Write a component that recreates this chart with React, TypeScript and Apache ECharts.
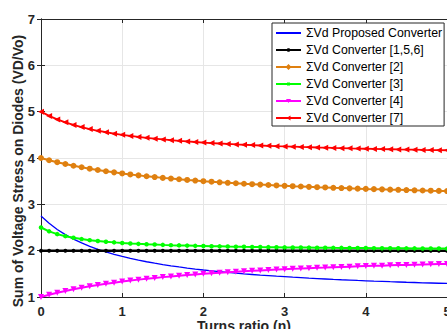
import React, { useEffect, useRef } from "react";
import * as echarts from "echarts";

const turnsRatio = [
  0, 0.1, 0.2, 0.3, 0.4, 0.5, 0.6, 0.7, 0.8, 0.9,
  1, 1.1, 1.2, 1.3, 1.4, 1.5, 1.6, 1.7, 1.8, 1.9,
  2, 2.1, 2.2, 2.3, 2.4, 2.5, 2.6, 2.7, 2.8, 2.9,
  3, 3.1, 3.2, 3.3, 3.4, 3.5, 3.6, 3.7, 3.8, 3.9,
  4, 4.1, 4.2, 4.3, 4.4, 4.5, 4.6, 4.7, 4.8, 4.9, 5,
];

const proposed = [
  2.75, 2.591, 2.458, 2.346, 2.25, 2.167, 2.094, 2.029, 1.972, 1.921,
  1.875, 1.833, 1.795, 1.761, 1.729, 1.7, 1.673, 1.648, 1.625, 1.603,
  1.583, 1.565, 1.547, 1.53, 1.515, 1.5, 1.486, 1.473, 1.461, 1.449,
  1.438, 1.427, 1.417, 1.407, 1.398, 1.389, 1.38, 1.372, 1.365, 1.357,
  1.35, 1.343, 1.337, 1.33, 1.324, 1.318, 1.313, 1.307, 1.302, 1.297, 1.292,
];

const conv156 = [
  2, 2, 2, 2, 2, 2, 2, 2, 2, 2,
  2, 2, 2, 2, 2, 2, 2, 2, 2, 2,
  2, 2, 2, 2, 2, 2, 2, 2, 2, 2,
  2, 2, 2, 2, 2, 2, 2, 2, 2, 2,
  2, 2, 2, 2, 2, 2, 2, 2, 2, 2, 2,
];

const conv2 = [
  4.0, 3.952, 3.909, 3.87, 3.833, 3.8, 3.769, 3.741, 3.714, 3.69,
  3.667, 3.645, 3.625, 3.606, 3.588, 3.571, 3.556, 3.541, 3.526, 3.513,
  3.5, 3.488, 3.476, 3.465, 3.455, 3.444, 3.435, 3.426, 3.417, 3.408,
  3.4, 3.392, 3.385, 3.377, 3.37, 3.364, 3.357, 3.351, 3.345, 3.339,
  3.333, 3.328, 3.323, 3.317, 3.313, 3.308, 3.303, 3.299, 3.294, 3.29, 3.286,
];

const conv3 = [
  2.5, 2.417, 2.357, 2.313, 2.278, 2.25, 2.227, 2.208, 2.192, 2.179,
  2.167, 2.156, 2.147, 2.139, 2.132, 2.125, 2.119, 2.114, 2.109, 2.104,
  2.1, 2.096, 2.093, 2.089, 2.086, 2.083, 2.081, 2.078, 2.076, 2.074,
  2.071, 2.069, 2.068, 2.066, 2.064, 2.063, 2.061, 2.06, 2.058, 2.057,
  2.056, 2.054, 2.053, 2.052, 2.051, 2.05, 2.049, 2.048, 2.047, 2.046, 2.045,
];

const conv4 = [
  1.0, 1.048, 1.091, 1.13, 1.167, 1.2, 1.231, 1.259, 1.286, 1.31,
  1.333, 1.355, 1.375, 1.394, 1.412, 1.429, 1.444, 1.459, 1.474, 1.487,
  1.5, 1.512, 1.524, 1.535, 1.545, 1.556, 1.565, 1.574, 1.583, 1.592,
  1.6, 1.608, 1.615, 1.623, 1.63, 1.636, 1.643, 1.649, 1.655, 1.661,
  1.667, 1.672, 1.677, 1.683, 1.688, 1.692, 1.697, 1.701, 1.706, 1.71, 1.714,
];

const conv7 = [
  5.0, 4.909, 4.833, 4.769, 4.714, 4.667, 4.625, 4.588, 4.556, 4.526,
  4.5, 4.476, 4.455, 4.435, 4.417, 4.4, 4.385, 4.37, 4.357, 4.345,
  4.333, 4.323, 4.313, 4.303, 4.294, 4.286, 4.278, 4.27, 4.263, 4.256,
  4.25, 4.244, 4.238, 4.233, 4.227, 4.222, 4.217, 4.213, 4.208, 4.204,
  4.2, 4.196, 4.192, 4.189, 4.185, 4.182, 4.179, 4.175, 4.172, 4.169, 4.167,
];

const seriesNames = [
  "ΣVd Proposed Converter",
  "ΣVd Converter [1,5,6]",
  "ΣVd Converter [2]",
  "ΣVd Converter [3]",
  "ΣVd Converter [4]",
  "ΣVd Converter [7]",
];

const legendIcons = [
  "path://M0 0h25v2H0z",
  "path://M0 2h25v2H0z M11.3 1.3h2.4v3.4h-2.4z",
  "path://M0 2h25v2H0z M12.5 0l3 3l-3 3l-3-3z",
  "path://M0 2h25v2H0z M11 1.5h3v3h-3z",
  "path://M0 2h25v2H0z M10 1h5l-2.5 4z",
  "path://M0 2h25v2H0z M10.5 3l4-2.5v5z",
];

const FONT = 'Arial, "Liberation Sans", sans-serif';
const AXIS_COLOR = "#262626";

function pairs(ys: number[]) {
  return turnsRatio.map((x, i) => [x, ys[i]]);
}

export default function App() {
  const ref = useRef<HTMLDivElement>(null);
  useEffect(() => {
    if (!ref.current) return;
    const chart = echarts.init(ref.current, undefined, { renderer: "svg" });
    const baseX = {
      type: "value" as const,
      min: 0,
      max: 5,
      interval: 1,
    };
    const baseY = {
      type: "value" as const,
      min: 1,
      max: 7,
      interval: 1,
    };
    chart.setOption({
      animation: false,
      backgroundColor: "#ffffff",
      grid: {
        left: 41,
        top: 19,
        width: 406,
        height: 278,
        containLabel: false,
        outerBoundsMode: "none",
      },
      legend: {
        orient: "vertical",
        left: 272,
        top: 23,
        padding: [4, 2, 2, 4],
        itemWidth: 25,
        itemHeight: 12,
        itemGap: 5,
        backgroundColor: "#ffffff",
        borderColor: AXIS_COLOR,
        borderWidth: 1,
        borderRadius: 0,
        itemStyle: { borderWidth: 0 },
        textStyle: { fontSize: 12.3, color: "#000", fontFamily: FONT, lineHeight: 12 },
        data: seriesNames.map((n, i) => ({ name: n, icon: legendIcons[i] })),
      },
      xAxis: [
        {
          ...baseX,
          position: "bottom",
          axisLine: { show: true, lineStyle: { color: AXIS_COLOR, width: 1 } },
          axisTick: { show: true, inside: true, length: 4, lineStyle: { color: AXIS_COLOR } },
          axisLabel: {
            show: true,
            margin: 8,
            color: AXIS_COLOR,
            fontWeight: "bold",
            fontSize: 13,
            fontFamily: FONT,
          },
          splitLine: { show: true, lineStyle: { color: "#e6e6e6", width: 1 } },
          name: "Turns ratio (n)",
          nameLocation: "middle",
          nameGap: 22,
          nameMoveOverlap: false,
          nameTextStyle: {
            fontSize: 14,
            fontWeight: "bold",
            color: AXIS_COLOR,
            fontFamily: FONT,
            verticalAlign: "top",
          },
        },
        {
          ...baseX,
          position: "top",
          axisLine: { show: true, lineStyle: { color: AXIS_COLOR, width: 1 } },
          axisTick: { show: true, inside: true, length: 4, lineStyle: { color: AXIS_COLOR } },
          axisLabel: { show: false },
          splitLine: { show: false },
        },
      ],
      yAxis: [
        {
          ...baseY,
          position: "left",
          axisLine: { show: true, lineStyle: { color: AXIS_COLOR, width: 1 } },
          axisTick: { show: true, inside: true, length: 4, lineStyle: { color: AXIS_COLOR } },
          axisLabel: {
            show: true,
            margin: 6,
            color: AXIS_COLOR,
            fontWeight: "bold",
            fontSize: 13,
            fontFamily: FONT,
          },
          splitLine: { show: true, lineStyle: { color: "#e6e6e6", width: 1 } },
        },
        {
          ...baseY,
          position: "right",
          axisLine: { show: true, lineStyle: { color: AXIS_COLOR, width: 1 } },
          axisTick: { show: true, inside: true, length: 4, lineStyle: { color: AXIS_COLOR } },
          axisLabel: { show: false },
          splitLine: { show: false },
        },
      ],
      graphic: [
        {
          type: "text",
          x: 18,
          y: 171,
          rotation: Math.PI / 2,
          style: {
            text: "Sum of Voltage Stress on Diodes (VD/Vo)",
            fill: AXIS_COLOR,
            font: `bold 14px ${FONT}`,
            align: "center",
            verticalAlign: "middle",
          },
        },
      ],
      series: [
        {
          name: seriesNames[0],
          type: "line",
          data: pairs(proposed),
          symbol: "none",
          smooth: false,
          lineStyle: { color: "#0000ff", width: 1.3 },
          itemStyle: { color: "#0000ff" },
          z: 2,
        },
        {
          name: seriesNames[1],
          type: "line",
          data: pairs(conv156),
          symbol: "circle",
          symbolSize: 4,
          lineStyle: { color: "#000000", width: 2.5 },
          itemStyle: { color: "#000000" },
          z: 3,
        },
        {
          name: seriesNames[2],
          type: "line",
          data: pairs(conv2),
          symbol: "circle",
          symbolSize: 6,
          lineStyle: { color: "#df8010", width: 2 },
          itemStyle: { color: "#df8010" },
          z: 4,
        },
        {
          name: seriesNames[3],
          type: "line",
          data: pairs(conv3),
          symbol: "circle",
          symbolSize: 4.5,
          lineStyle: { color: "#00ff00", width: 2 },
          itemStyle: { color: "#00ff00" },
          z: 5,
        },
        {
          name: seriesNames[4],
          type: "line",
          data: pairs(conv4),
          symbol: "triangle",
          symbolRotate: 180,
          symbolSize: 6,
          lineStyle: { color: "#ff00ff", width: 2 },
          itemStyle: { color: "#ff00ff" },
          z: 6,
        },
        {
          name: seriesNames[5],
          type: "line",
          data: pairs(conv7),
          symbol: "triangle",
          symbolRotate: 90,
          symbolSize: 6,
          lineStyle: { color: "#ff0000", width: 1.8 },
          itemStyle: { color: "#ff0000" },
          z: 7,
        },
      ],
    });
    return () => chart.dispose();
  }, []);
  return (
    <div
      ref={ref}
      style={{ position: "fixed", left: 0, top: 0, width: 447, height: 329, background: "#fff" }}
    />
  );
}
